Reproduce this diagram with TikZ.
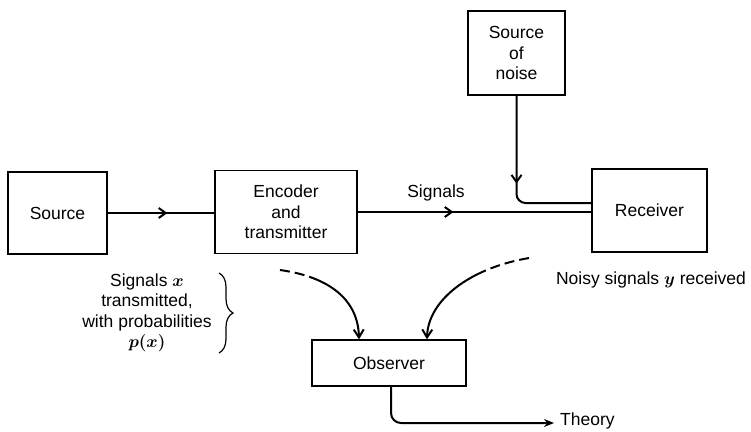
\documentclass[tikz,border=0pt]{standalone}
\usepackage{fontspec}
\setmainfont{Liberation Sans}
\usepackage{bm}
\usetikzlibrary{arrows.meta,decorations.markings,decorations.pathreplacing}
\begin{document}
\begin{tikzpicture}[x=1pt,y=-1pt,
  box/.style={draw,line width=1.3pt,inner sep=0pt,align=center,font=\fontsize{17.5}{20.5}\selectfont},
  lbl/.style={inner sep=0pt,align=center,font=\fontsize{17.5}{20.5}\selectfont},
  conn/.style={line width=2pt},
  midarrow/.style={postaction={decorate},decoration={markings,mark=at position #1 with {\arrow{Straight Barb[length=7pt,width=10pt]}}}},
  barbend/.style={-{Straight Barb[length=8pt,width=10pt]}}
]
\useasboundingbox (0,0) rectangle (751,431);
% boxes
\node[box,minimum width=99pt,minimum height=82pt] (src) at (57.5,213) {Source};
\node[box,minimum width=142pt,minimum height=83pt] (enc) at (286,212) {Encoder\\and\\transmitter};
\node[box,minimum width=97pt,minimum height=84pt] (noise) at (516.5,53) {Source\\of\\noise};
\node[box,minimum width=115pt,minimum height=83pt] (recv) at (649.5,210.5) {Receiver};
\node[box,minimum width=154pt,minimum height=46pt] (obs) at (389,363) {Observer};
% labels
\node[lbl] (sig) at (436,193) {Signals};
\node[lbl] (noisy) at (651,280) {Noisy signals $\bm{y}$ received};
\node[lbl] (sx) at (147,313) {Signals $\bm{x}$\\transmitted,\\with probabilities\\$\bm{p(x)}$};
\node[lbl,anchor=west] (theory) at (560,421) {Theory};
\coordinate (d1) at (280,270);
\coordinate (d2) at (529,258);
% connectors
\draw[conn,midarrow=0.56] (src.east) -- (src.east -| enc.west);
\draw[conn,midarrow=0.41] (enc.east) -- (enc.east -| recv.west);
\draw[conn,rounded corners=9pt,postaction={decorate},decoration={markings,mark=at position 88pt with {\arrow{Straight Barb[length=7pt,width=10pt]}}}]
  (noise.south) |- ([yshift=9pt]enc.east -| recv.west);
\draw[conn,barbend,dash pattern=on 10pt off 5pt on 10pt off 5pt on 600pt]
  (d1) .. controls (330,277) and (358,300) .. ([xshift=-30pt]obs.north);
\draw[conn,barbend,dash pattern=on 10pt off 5pt on 10pt off 5pt on 10pt off 5pt on 600pt]
  (d2) .. controls (470,268) and (428,300) .. ([xshift=38pt]obs.north);
\draw[conn,rounded corners=10pt,-{Stealth[length=10pt,width=8pt]}]
  ([xshift=2pt]obs.south) |- ([xshift=-6pt,yshift=-2pt]theory.west);
% brace
\draw[line width=1.2pt,decorate,decoration={brace,amplitude=14pt}] (219,273) -- (219,353);
\end{tikzpicture}
\end{document}
